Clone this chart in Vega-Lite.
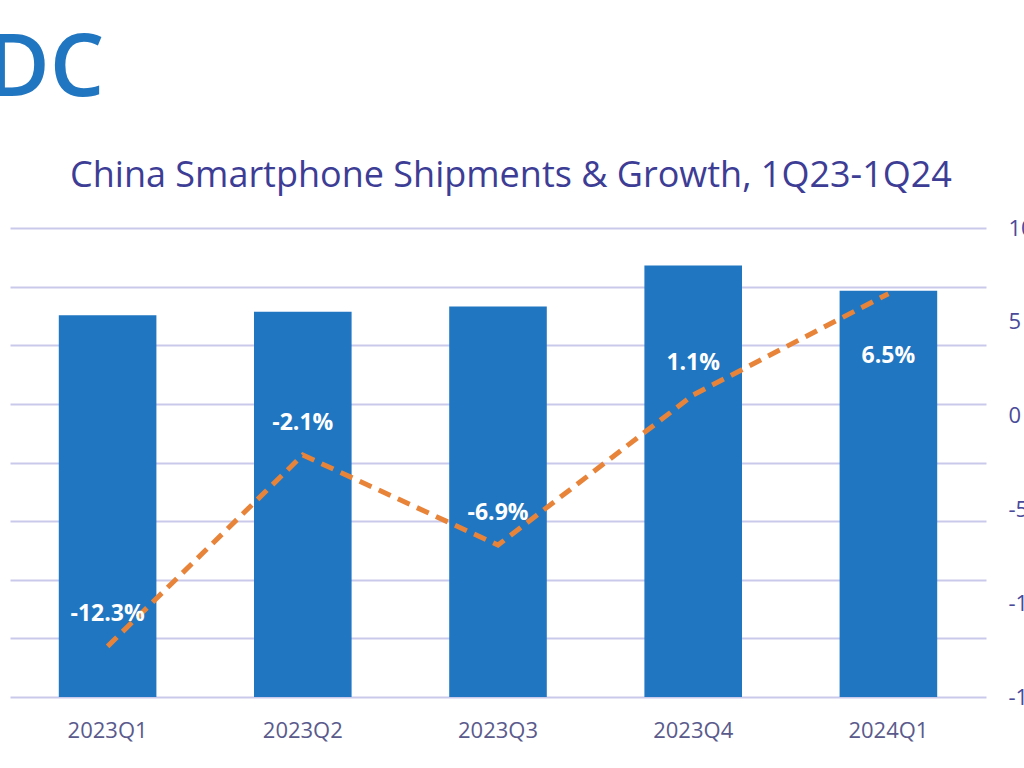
{
  "$schema": "https://vega.github.io/schema/vega-lite/v6.json",
  "width": 976,
  "height": 469,
  "autosize": {"type": "none"},
  "padding": {"left": 10, "top": 228, "right": 38, "bottom": 71},
  "background": "white",
  "title": {
    "text": "China Smartphone Shipments & Growth, 1Q23-1Q24",
    "font": "Open Sans",
    "fontSize": 36,
    "fontWeight": "normal",
    "color": "#3d3d96",
    "anchor": "middle",
    "baseline": "alphabetic",
    "offset": 0,
    "dy": 197,
    "dx": 13
  },
  "config": {
    "view": {"stroke": null},
    "font": "Open Sans"
  },
  "data": {
    "values": [
      {"quarter": "2023Q1", "shipments": 65.1, "growth": -12.3, "label": "-12.3%", "pos": "above"},
      {"quarter": "2023Q2", "shipments": 65.7, "growth": -2.1, "label": "-2.1%", "pos": "above"},
      {"quarter": "2023Q3", "shipments": 66.6, "growth": -6.9, "label": "-6.9%", "pos": "above"},
      {"quarter": "2023Q4", "shipments": 73.6, "growth": 1.1, "label": "1.1%", "pos": "above"},
      {"quarter": "2024Q1", "shipments": 69.3, "growth": 6.5, "label": "6.5%", "pos": "below"}
    ]
  },
  "encoding": {
    "x": {
      "field": "quarter",
      "type": "nominal",
      "sort": null,
      "scale": {"paddingInner": 0.5, "paddingOuter": 0.25},
      "axis": {
        "title": null,
        "labelAngle": 0,
        "labelFont": "Open Sans",
        "labelFontSize": 22,
        "labelColor": "#5a5a8c",
        "labelPadding": 23,
        "domain": false,
        "ticks": false
      }
    }
  },
  "layer": [
    {
      "mark": {"type": "bar", "color": "#2176c1"},
      "encoding": {
        "y": {
          "field": "shipments",
          "type": "quantitative",
          "scale": {"domain": [0, 80], "nice": false},
          "axis": {
            "title": "IDC",
            "titleAngle": 0,
            "titleX": -50,
            "titleY": -133,
            "titleAlign": "left",
            "titleBaseline": "alphabetic",
            "titleFont": "Open Sans",
            "titleFontSize": 86,
            "titleFontWeight": 600,
            "titleColor": "#2176c1",
            "values": [0, 10, 20, 30, 40, 50, 60, 70, 80],
            "labels": false,
            "ticks": false,
            "domain": false,
            "grid": true,
            "gridColor": "#c9c9ec",
            "gridWidth": 2
          }
        }
      }
    },
    {
      "encoding": {
        "y": {
          "field": "growth",
          "type": "quantitative",
          "scale": {"domain": [-15, 10], "nice": false}
        }
      },
      "layer": [
        {
          "mark": {"type": "line", "color": "#e8843a", "strokeWidth": 5, "strokeDash": [13, 8]},
          "encoding": {
            "y": {
              "field": "growth",
              "type": "quantitative",
              "axis": {
                "orient": "right",
                "title": null,
                "values": [10, 5, 0, -5, -10, -15],
                "labelExpr": "toString(datum.value)",
                "labelFont": "Open Sans",
                "labelFontSize": 22,
                "labelColor": "#4a4a9a",
                "labelPadding": 22,
                "ticks": false,
                "domain": false,
                "grid": false
              }
            }
          }
        },
        {
          "transform": [{"filter": "datum.pos === 'above'"}],
          "mark": {"type": "text", "color": "white", "fontWeight": "bold", "fontSize": 23, "font": "Open Sans", "dy": -32, "baseline": "middle"},
          "encoding": {"text": {"field": "label"}}
        },
        {
          "transform": [{"filter": "datum.pos === 'below'"}],
          "mark": {"type": "text", "color": "white", "fontWeight": "bold", "fontSize": 23, "font": "Open Sans", "dy": 62, "baseline": "middle"},
          "encoding": {"text": {"field": "label"}}
        }
      ]
    }
  ],
  "resolve": {"scale": {"y": "independent"}}
}
